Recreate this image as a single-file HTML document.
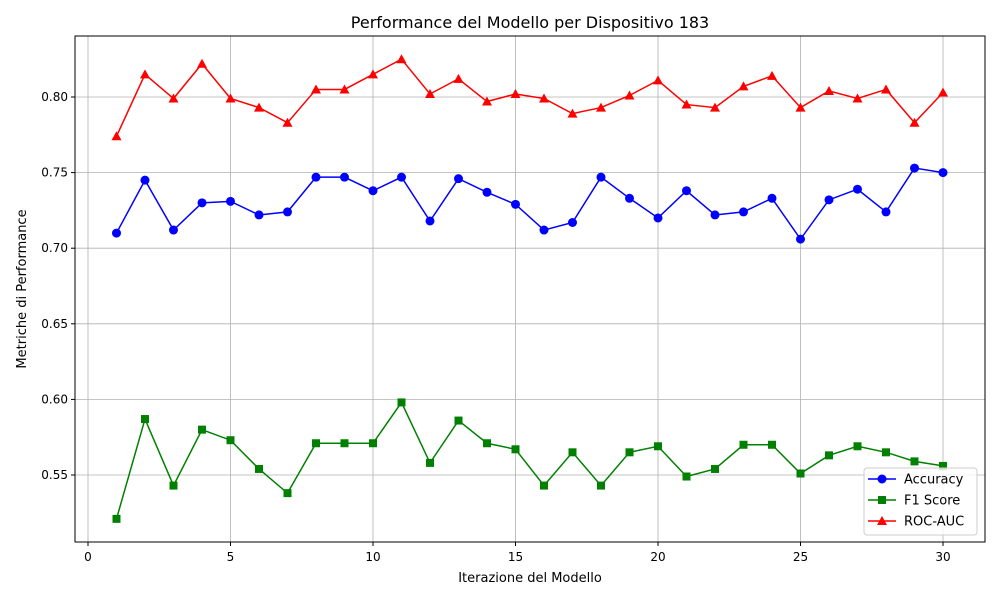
<!DOCTYPE html>
<html><head><meta charset="utf-8"><style>
body{margin:0;background:#fff;font-family:"Liberation Sans","DejaVu Sans",sans-serif}
</style></head><body>
<svg id="chart" width="1000" height="600" xmlns="http://www.w3.org/2000/svg" font-family="DejaVu Sans, Liberation Sans, sans-serif">
<rect width="1000" height="600" fill="#fff"/>
<text x="530" y="28" text-anchor="middle" font-size="16">Performance del Modello per Dispositivo 183</text>
<text x="530" y="582" text-anchor="middle" font-size="13">Iterazione del Modello</text>
<text transform="translate(26,289) rotate(-90)" text-anchor="middle" font-size="13">Metriche di Performance</text>
<g id="grid"></g><g id="series"></g>
<rect x="75" y="36" width="910" height="506" fill="none" stroke="#000" stroke-width="1"/>
<g id="legend">
<rect x="864" y="468" width="113" height="67" rx="3" fill="#fff" fill-opacity="0.8" stroke="#ccc"/>
</g>
</svg>
<script>
const iterations=[1,2,3,4,5,6,7,8,9,10,11,12,13,14,15,16,17,18,19,20,21,22,23,24,25,26,27,28,29,30];
const accuracy=[0.710,0.745,0.712,0.730,0.731,0.722,0.724,0.747,0.747,0.738,0.747,0.718,0.746,0.737,0.729,0.712,0.717,0.747,0.733,0.720,0.738,0.722,0.724,0.733,0.706,0.732,0.739,0.724,0.753,0.750];
const f1=[0.521,0.587,0.543,0.580,0.573,0.554,0.538,0.571,0.571,0.571,0.598,0.558,0.586,0.571,0.567,0.543,0.565,0.543,0.565,0.569,0.549,0.554,0.570,0.570,0.551,0.563,0.569,0.565,0.559,0.556];
const rocauc=[0.774,0.815,0.799,0.822,0.799,0.793,0.783,0.805,0.805,0.815,0.825,0.802,0.812,0.797,0.802,0.799,0.789,0.793,0.801,0.811,0.795,0.793,0.807,0.814,0.793,0.804,0.799,0.805,0.783,0.803];
const xTicks=[0,5,10,15,20,25,30];
const yTicks=[0.55,0.60,0.65,0.70,0.75,0.80];
const NS="http://www.w3.org/2000/svg";
const xs=v=>88+v*28.5;
const ys=v=>97+(0.80-v)*1512;
function mk(t,a,p){const e=document.createElementNS(NS,t);for(const k in a)e.setAttribute(k,a[k]);p.appendChild(e);return e;}
const grid=document.getElementById('grid');
xTicks.forEach(t=>{const x=xs(t);
const g=mk('line',{x1:x,x2:x,y1:36,y2:542,stroke:'#b0b0b0','stroke-width':0.8},grid);


mk('line',{x1:x,x2:x,y1:542,y2:546,stroke:'#000'},grid);
const l=mk('text',{x:x,y:561,'text-anchor':'middle','font-size':12},grid);l.textContent=t;

});
yTicks.forEach(t=>{const y=ys(t);
const g=mk('line',{x1:75,x2:985,y1:y,y2:y,stroke:'#b0b0b0','stroke-width':0.8},grid);


mk('line',{x1:71,x2:75,y1:y,y2:y,stroke:'#000'},grid);
const l=mk('text',{x:68,y:y+4,'text-anchor':'end','font-size':12},grid);l.textContent=t.toFixed(2);

});
const S=document.getElementById('series');
function marker(shape,x,y,c,p){
 if(shape==='o')return mk('circle',{cx:x,cy:y,r:4.5,fill:c},p);
 if(shape==='s')return mk('rect',{x:x-4,y:y-4,width:8,height:8,fill:c},p);
 return mk('polygon',{points:`${x},${y-5} ${x-5},${y+4} ${x+5},${y+4}`,fill:c},p);
}
function series(vals,c,shape,name){
 const g=mk('g',{},S);
 
 
 mk('polyline',{points:vals.map((v,i)=>xs(iterations[i])+','+ys(v)).join(' '),fill:'none',stroke:c,'stroke-width':1.5},g);
 vals.forEach((v,i)=>{const m=marker(shape,xs(iterations[i]),ys(v),c,g);
 
 });
}
series(accuracy,'#0000ff','o','accuracy');
series(f1,'#008000','s','f1-score');
series(rocauc,'#ff0000','^','roc-auc');
const L=document.getElementById('legend');
[['Accuracy','#0000ff','o'],['F1 Score','#008000','s'],['ROC-AUC','#ff0000','^']].forEach((d,i)=>{
 const y=479+i*21;
 const g=mk('g',{},L);
 
 
 mk('line',{x1:868,x2:896,y1:y,y2:y,stroke:d[1],'stroke-width':1.5},g);
 marker(d[2],882,y,d[1],g);
 const t=mk('text',{x:904,y:y+4.5,'font-size':13},g);t.textContent=d[0];
});
</script>
</body></html>
